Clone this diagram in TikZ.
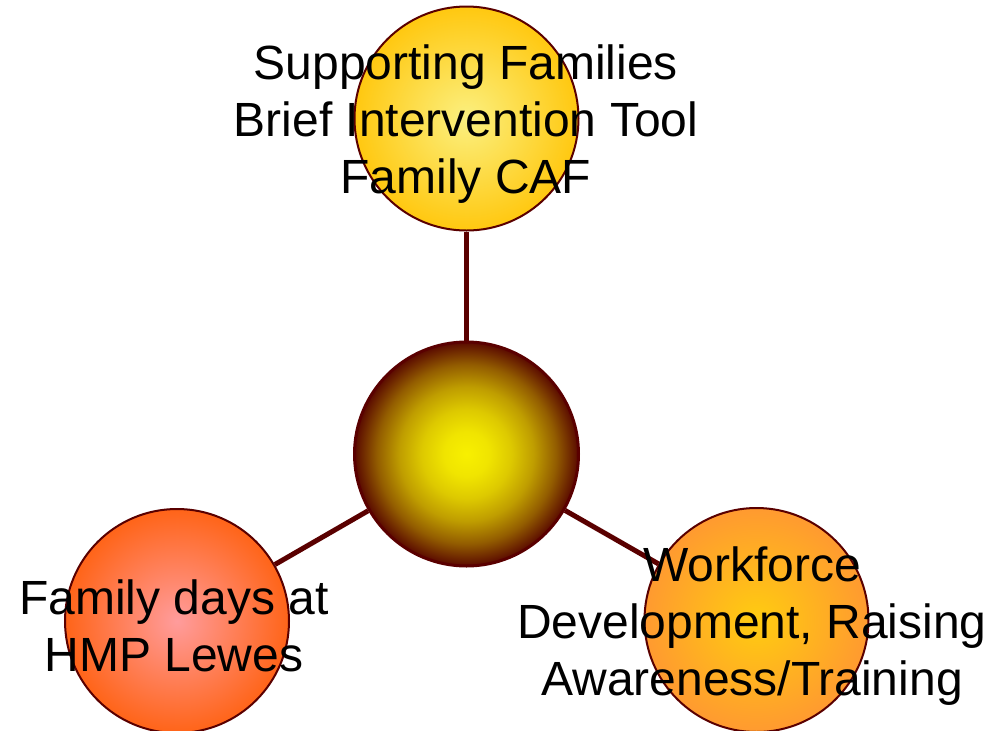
\documentclass[tikz,border=0pt]{standalone}
\usepackage{fontspec}
\setmainfont{Liberation Sans}
\definecolor{rimred}{HTML}{5A0000}
\definecolor{hubin}{HTML}{F8F000}
\definecolor{hubout}{HTML}{5A0A00}
\definecolor{topin}{HTML}{FBF080}
\definecolor{topout}{HTML}{FFC810}
\definecolor{leftin}{HTML}{FF9C9C}
\definecolor{leftout}{HTML}{FF6418}
\definecolor{rightin}{HTML}{FFCC10}
\definecolor{rightout}{HTML}{FF9A30}
\pgfdeclareradialshading{hub glow}{\pgfpoint{0bp}{0bp}}{%
  color(0bp)=(hubin); color(5bp)=(hubin!95!hubout); color(10bp)=(hubin!83!hubout);
  color(15bp)=(hubin!64!hubout); color(20bp)=(hubin!36!hubout); color(25bp)=(hubout); color(50bp)=(hubout)}
\begin{document}
\begin{tikzpicture}[x=0.5pt, y=-0.5pt,
  hub/.style={circle,draw=rimred,line width=1.5pt,minimum size=112pt,inner sep=0pt},
  spoke/.style={circle,draw=rimred,line width=1pt,minimum size=112pt,inner sep=0pt},
  link/.style={draw=rimred,line width=2.5pt},
  caption/.style={align=center,inner sep=0pt,font=\fontsize{24}{28.5}\selectfont}]

\useasboundingbox (0,0) rectangle (987,730);

\node[hub,shading=hub glow] (hub) at (466.5,454) {};
\node[spoke,inner color=topin,outer color=topout] (top) at (466.5,118.5) {};
\node[spoke,inner color=leftin,outer color=leftout] (left) at (177,621) {};
\node[spoke,inner color=rightin,outer color=rightout] (right) at (756.5,620) {};

\draw[link] (hub) -- (top);
\draw[link] (hub) -- (left);
\draw[link] (hub) -- (right);

\node[caption] (top text) at (466,124) {Supporting Families\\Brief Intervention Tool\\Family CAF};
\node[caption] (left text) at (174,626) {Family days at\\HMP Lewes};
\node[caption] (right text) at (752,626) {Workforce\\Development, Raising\\Awareness/Training};

\end{tikzpicture}
\end{document}
